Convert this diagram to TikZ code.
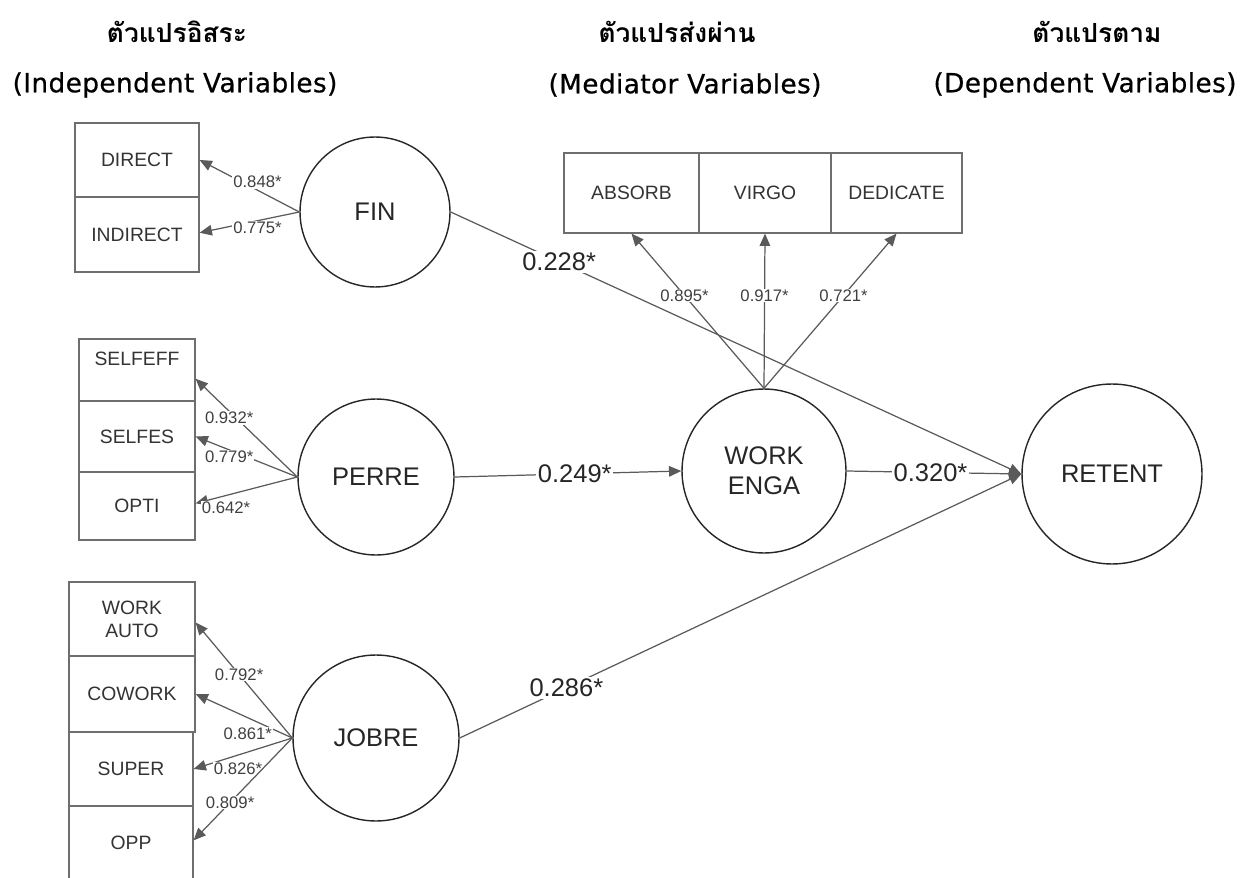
\documentclass[tikz,border=0pt]{standalone}
\usepackage{fontspec}
\setmainfont{Liberation Sans}
\newfontfamily\thaifont[Script=Thai]{Loma}
\newfontfamily\headfont[LetterSpace=1.5, FakeBold=0.6]{DejaVu Sans}
\usetikzlibrary{arrows.meta}

\definecolor{boxgray}{HTML}{6E6E6E}
\definecolor{linegray}{HTML}{5A5A5A}

\tikzset{
  cell/.style={draw=boxgray, line width=0.7pt, inner sep=0pt, text=black!80,
    font=\fontsize{11}{13}\selectfont, align=center},
  latent/.style={circle, draw=black!85, line width=0.8pt, inner sep=0pt,
    text=black!85, font=\fontsize{14.5}{17}\selectfont, align=center},
  load/.style={draw=linegray, line width=0.7pt, -{Triangle[length=7pt,width=6pt]}},
  lbl/.style={fill=white, inner sep=0.5pt, text=black!75, font=\fontsize{9.5}{10}\selectfont},
  biglbl/.style={fill=white, inner sep=1pt, text=black!85, font=\fontsize{14.5}{16}\selectfont},
  headth/.style={font=\thaifont\bfseries\fontsize{15}{17}\selectfont},
  heads/.style={font=\headfont\fontsize{15}{17}\selectfont},
}

\begin{document}
\begin{tikzpicture}[x=0.02cm, y=-0.02cm]
\useasboundingbox (0,0) rectangle (1250,878);

% headings
\node[headth] (h1t) at (177,32) {ตัวแปรอิสระ};
\node[heads]  (h1e) at (175,85) {(Independent Variables)};
\node[headth] (h2t) at (677,32) {ตัวแปรส่งผ่าน};
\node[heads]  (h2e) at (685,85) {(Mediator Variables)};
\node[headth] (h3t) at (1097,32) {ตัวแปรตาม};
\node[heads]  (h3e) at (1085,85) {(Dependent Variables)};

% latent variables
\node[latent, minimum size=3cm]    (fin)    at (375,212) {FIN};
\node[latent, minimum size=3.12cm] (perre)  at (376,477) {PERRE};
\node[latent, minimum size=3.32cm] (jobre)  at (376,738) {JOBRE};
\node[latent, minimum size=3.28cm] (engage) at (764,471) {WORK\\ENGA};
\node[latent, minimum size=3.6cm]  (retent) at (1112,474) {RETENT};

% indicators of FIN
\node[cell, minimum width=2.48cm, minimum height=1.48cm] (direct)   at (137,160) {DIRECT};
\node[cell, minimum width=2.48cm, minimum height=1.5cm]  (indirect) at (137,234.5) {INDIRECT};

% indicators of PERRE
\node[cell, minimum width=2.32cm, minimum height=1.24cm] (selfeff) at (137,370) {SELFEFF\\\mbox{}};
\node[cell, minimum width=2.32cm, minimum height=1.42cm] (selfes)  at (137,436.5) {SELFES};
\node[cell, minimum width=2.32cm, minimum height=1.36cm] (opti)    at (137,506) {OPTI};

% indicators of JOBRE
\node[cell, minimum width=2.52cm, minimum height=1.48cm] (workauto) at (132,619) {WORK\\AUTO};
\node[cell, minimum width=2.52cm, minimum height=1.52cm] (cowork)   at (132,694) {COWORK};
\node[cell, minimum width=2.48cm, minimum height=1.48cm] (super)    at (131,769) {SUPER};
\node[cell, minimum width=2.48cm, minimum height=1.48cm] (opp)      at (131,843) {OPP};

% indicators of WORK ENGA
\node[cell, minimum width=2.7cm,  minimum height=1.6cm] (absorb)   at (631.5,193) {ABSORB};
\node[cell, minimum width=2.64cm, minimum height=1.6cm] (virgo)    at (765,193) {VIRGO};
\node[cell, minimum width=2.62cm, minimum height=1.6cm] (dedicate) at (896.5,193) {DEDICATE};

% loadings
\draw[load] (fin.west) -- node[lbl, pos=.42, yshift=4.5pt] {0.848*} (direct.east);
\draw[load] (fin.west) -- node[lbl, pos=.42, yshift=-4pt] {0.775*} ([yshift=1pt]indirect.east);

\draw[load] (perre.west) -- node[lbl, pos=.67, yshift=-4pt] {0.932*} ([yshift=-5pt]selfeff.east);
\draw[load] (perre.west) -- node[lbl, pos=.67, yshift=-4pt] {0.779*} (selfes.east);
\draw[load] (perre.west) -- node[lbl, pos=.7, yshift=-7pt] {0.642*} ([yshift=1.5pt]opti.east);

\draw[load] (jobre.west) -- node[lbl, pos=.55] {0.792*} ([yshift=-2pt]workauto.east);
\draw[load] (jobre.west) -- node[lbl, pos=.46, yshift=-9pt] {0.861*} (cowork.east);
\draw[load] (jobre.west) -- node[lbl, pos=.55, yshift=-8pt] {0.826*} (super.east);
\draw[load] (jobre.west) -- node[lbl, pos=.63] {0.809*} ([yshift=1.5pt]opp.east);

\draw[load] (engage.north) -- node[lbl, pos=.6] {0.895*} (absorb.south);
\draw[load] (engage.north) -- node[lbl, pos=.6] {0.917*} (virgo.south);
\draw[load] (engage.north) -- node[lbl, pos=.6] {0.721*} (dedicate.south);

% structural paths
\draw[load] (fin.east) -- node[biglbl, pos=.19] {0.228*} (retent.west);
\draw[load] (jobre.east) -- node[biglbl, pos=.19] {0.286*} (retent.west);
\draw[load] (perre.east) -- node[biglbl, pos=.53] {0.249*} (engage.west);
\draw[load] (engage.east) -- node[biglbl, pos=.48] {0.320*} (retent.west);
\end{tikzpicture}
\end{document}
